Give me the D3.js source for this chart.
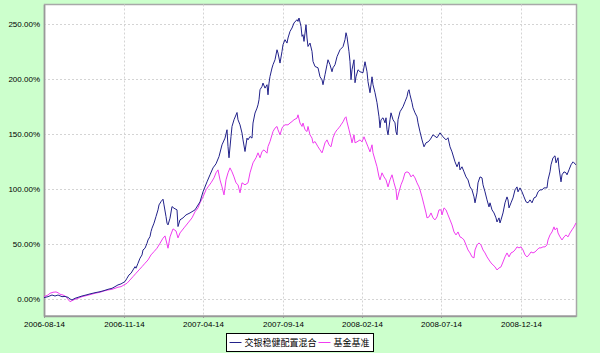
<!DOCTYPE html>
<html>
<head>
<meta charset="utf-8">
<script src="https://cdn.jsdelivr.net/npm/d3@7"></script>
<style>
  body { margin: 0; background: #ccffcc; }
  svg { display: block; }
</style>
</head>
<body>
<div class="chart"></div>
<script>
// tick labels on the x axis and the trading-day index they sit at
var tickLabels = ["2006-08-14", "2006-11-14", "2007-04-14", "2007-09-14", "2008-02-14", "2008-07-14", "2008-12-14"];
var tickDays = [0, 80, 159, 239, 318, 397, 477];
var lastDay = 532;

var yTicks = [0, 50, 100, 150, 200, 250];

var seriesNames = ["交银稳健配置混合", "基金基准"];

// [day index, cumulative return %]
var fund = [
  [0,1.2],[4,2.1],[8,3.6],[11,2.7],[14,3.6],[18,2.1],[21,2.3],[24,1.5],[26,0.0],[28,-0.9],
  [31,0.6],[34,1.5],[38,2.7],[42,3.6],[46,4.6],[51,5.7],[56,6.6],[60,7.6],[64,8.8],[68,9.7],
  [71,11.2],[74,12.8],[77,13.7],[79,14.8],[81,15.8],[83,18.9],[85,21.9],[87,23.4],[89,26.4],[91,29.4],
  [92,28.0],[94,32.5],[96,37.1],[98,40.1],[99,44.6],[101,46.2],[103,50.7],[104,53.7],[106,56.8],[107,61.3],
  [108,64.4],[110,69.0],[112,75.0],[114,81.1],[115,85.6],[117,88.6],[119,90.8],[120,85.6],[122,75.0],[123,69.0],
  [124,67.4],[126,73.5],[128,84.1],[130,82.6],[133,81.1],[134,65.9],[136,72.0],[139,73.8],[142,76.5],[146,78.3],
  [151,81.1],[156,88.4],[159,97.5],[163,106.6],[166,113.0],[169,119.3],[172,123.0],[175,129.6],[178,140.3],[181,146.4],
  [183,154.0],[184,138.7],[185,128.5],[187,147.9],[188,157.0],[190,163.1],[193,169.7],[194,163.1],[196,158.5],[198,151.0],
  [199,144.8],[201,134.2],[203,146.4],[204,144.8],[206,147.9],[208,146.4],[209,160.1],[211,169.2],[213,173.7],[214,176.7],
  [215,181.3],[216,190.4],[218,193.4],[219,196.5],[221,191.9],[223,195.0],[224,185.8],[225,196.5],[226,202.5],[228,210.2],
  [229,213.2],[231,217.7],[233,226.8],[234,223.8],[236,214.7],[238,225.3],[239,231.4],[241,236.0],[243,232.9],[244,237.5],
  [246,243.5],[248,246.6],[250,251.2],[253,254.2],[254,252.6],[255,255.7],[257,248.1],[258,239.0],[259,240.5],[260,234.4],
  [262,249.6],[263,237.5],[264,229.8],[266,232.9],[268,225.3],[269,216.2],[271,211.6],[274,210.4],[276,202.2],[278,199.5],
  [279,195.0],[281,204.1],[283,213.2],[284,217.7],[286,213.2],[288,206.8],[289,210.4],[291,213.2],[293,220.5],[296,226.8],
  [299,229.6],[301,236.0],[302,242.3],[303,238.7],[305,225.0],[306,215.9],[307,199.5],[308,208.6],[310,217.7],[311,196.8],
  [312,202.2],[314,208.6],[316,206.8],[319,205.9],[321,215.9],[323,206.8],[324,197.7],[326,187.7],[328,202.2],[329,195.0],
  [331,187.7],[333,178.6],[335,165.8],[336,155.8],[337,163.1],[339,164.9],[341,160.3],[342,164.9],[343,154.0],[344,149.4],
  [346,163.1],[347,169.4],[349,163.1],[351,160.3],[352,152.1],[353,149.4],[354,163.1],[356,170.4],[359,174.9],[361,179.5],
  [363,184.0],[364,188.6],[365,190.4],[366,185.8],[368,178.6],[369,174.0],[371,169.4],[373,165.8],[374,160.3],[376,152.1],
  [378,144.8],[380,138.5],[382,142.1],[384,143.0],[386,144.8],[389,149.4],[393,146.7],[396,151.2],[399,147.6],[402,144.8],
  [404,146.7],[406,138.5],[408,133.9],[411,124.8],[413,120.3],[415,124.8],[416,117.5],[418,120.3],[420,115.7],[422,111.1],
  [424,108.4],[426,102.0],[428,99.3],[430,92.9],[431,87.5],[433,96.6],[434,105.7],[436,111.1],[438,110.2],[439,103.9],
  [441,97.5],[443,90.2],[445,83.8],[446,87.5],[448,81.1],[450,78.3],[452,73.8],[453,70.1],[455,73.8],[456,69.2],
  [457,72.0],[459,78.3],[461,87.5],[463,92.9],[464,90.2],[465,82.9],[467,87.5],[469,92.0],[471,99.3],[473,102.0],
  [474,97.5],[476,101.1],[478,97.5],[480,92.9],[482,88.4],[484,87.5],[486,90.2],[488,87.5],[490,92.0],[492,92.9],
  [494,97.5],[496,99.3],[498,99.3],[500,101.1],[503,101.1],[504,108.4],[506,115.7],[507,122.1],[509,128.5],[511,130.3],
  [512,123.9],[514,128.5],[515,119.3],[517,106.6],[518,113.0],[520,115.7],[522,114.8],[523,113.0],[525,117.5],[527,122.1],
  [529,124.8],[530,123.9],[532,122.1]
];

var bench = [
  [0,2.1],[4,3.6],[6,5.2],[9,6.1],[12,6.4],[14,5.7],[16,4.3],[19,3.6],[22,2.1],[24,-0.3],
  [26,-2.5],[28,-1.5],[31,-0.3],[34,0.6],[38,2.1],[42,3.0],[46,3.9],[51,5.2],[56,6.1],[60,7.3],
  [64,8.2],[68,8.8],[71,9.7],[74,10.7],[77,11.2],[80,12.8],[83,14.3],[86,17.3],[89,20.3],[92,23.4],
  [95,26.4],[98,29.4],[101,32.5],[104,35.5],[107,40.1],[110,43.1],[113,46.2],[116,50.7],[119,55.3],[121,57.4],
  [124,46.2],[126,56.5],[129,63.8],[132,61.9],[134,55.6],[136,60.1],[140,64.7],[144,69.2],[148,73.8],[151,79.3],
  [154,82.9],[156,87.5],[159,92.9],[162,99.3],[164,102.0],[167,105.7],[170,110.2],[172,114.8],[174,117.5],[176,108.4],
  [178,102.0],[180,94.7],[182,108.4],[184,114.8],[186,119.3],[188,115.7],[190,111.1],[192,105.7],[194,103.9],[196,96.6],
  [198,105.7],[201,103.9],[204,105.7],[206,114.8],[209,123.9],[212,128.5],[214,133.0],[216,128.5],[218,134.2],[220,135.7],
  [223,132.7],[224,138.7],[226,143.3],[228,149.4],[229,152.4],[231,155.5],[233,157.0],[234,154.0],[236,149.4],[238,155.5],
  [239,157.0],[241,158.5],[244,158.5],[246,160.1],[248,161.5],[250,163.1],[253,164.6],[254,167.6],[256,160.1],[258,157.0],
  [259,160.1],[261,154.0],[263,152.4],[264,157.0],[266,149.4],[268,146.4],[269,141.8],[271,143.3],[274,138.5],[276,135.7],
  [278,133.0],[279,135.7],[281,142.1],[283,144.8],[285,140.3],[287,138.5],[289,146.7],[291,151.2],[293,154.0],[295,155.8],
  [297,158.5],[299,161.2],[301,164.9],[302,165.8],[303,161.2],[305,154.0],[307,146.7],[308,142.1],[310,149.4],[311,142.1],
  [313,143.0],[316,144.8],[318,143.0],[320,147.6],[322,143.0],[324,138.5],[326,133.9],[328,140.3],[329,133.0],[331,126.6],
  [333,120.3],[335,111.1],[336,108.4],[338,114.8],[340,111.1],[342,108.4],[344,102.0],[346,108.4],[348,113.0],[350,105.7],
  [352,99.3],[353,90.2],[355,97.5],[357,103.9],[359,108.4],[361,114.8],[363,115.7],[365,114.8],[367,111.1],[369,113.0],
  [371,110.2],[373,105.7],[375,102.0],[376,99.3],[378,92.9],[380,85.6],[382,78.3],[383,73.8],[385,74.7],[387,78.3],
  [389,73.8],[391,72.0],[393,74.7],[395,81.1],[397,81.1],[398,76.5],[400,82.9],[402,81.1],[404,76.5],[406,72.0],
  [408,67.4],[410,61.0],[412,58.3],[414,61.0],[416,56.5],[418,55.6],[420,53.7],[422,49.2],[424,44.6],[426,41.9],
  [428,38.3],[430,37.4],[431,44.6],[433,49.2],[435,51.0],[437,49.2],[439,44.6],[441,41.9],[443,38.3],[445,35.5],
  [447,32.8],[449,31.0],[451,29.2],[453,26.4],[455,28.2],[457,29.2],[459,33.7],[461,38.3],[463,41.9],[465,38.3],
  [467,41.9],[469,42.8],[471,44.6],[473,47.4],[475,46.5],[477,47.4],[479,44.6],[481,40.1],[483,38.3],[485,40.1],
  [487,42.8],[489,41.9],[491,42.8],[493,44.6],[495,46.5],[497,46.5],[499,47.4],[501,47.4],[503,49.2],[504,53.7],
  [506,58.3],[508,61.0],[510,65.6],[511,62.9],[513,64.7],[514,60.1],[516,56.5],[518,53.7],[520,56.5],[522,58.3],
  [524,56.5],[526,60.1],[528,62.9],[530,65.6],[532,69.2]
];

var colors = ["#22228a", "#f03cf0"];

var W = 600, H = 353;
var margin = {top: 4.5, right: 24, bottom: 37, left: 44};

var svg = d3.select(".chart")
    .append("svg")
    .attr("width", W)
    .attr("height", H);

svg.append("rect")
    .attr("width", W)
    .attr("height", H)
    .attr("fill", "#ccffcc");

var x = d3.scaleLinear()
    .domain([0, lastDay])
    .range([margin.left, W - margin.right]);

var y = d3.scaleLinear()
    .domain([-15.5, 268])
    .range([H - margin.bottom, margin.top]);

// plot area
svg.append("rect")
    .attr("x", margin.left + 0.5)
    .attr("y", margin.top)
    .attr("width", W - margin.right - margin.left)
    .attr("height", H - margin.bottom - margin.top)
    .attr("fill", "#ffffff")
    .attr("stroke", "#a8a8a8")
    .attr("stroke-width", 1.5);

// grid lines
svg.append("g")
    .selectAll("line")
    .data(yTicks)
    .join("line")
    .attr("x1", margin.left)
    .attr("x2", W - margin.right)
    .attr("y1", d => Math.round(y(d)) + 0.5)
    .attr("y2", d => Math.round(y(d)) + 0.5)
    .attr("stroke", "#d4d4d4")
    .attr("stroke-dasharray", "2,2");

svg.append("g")
    .selectAll("line")
    .data(tickDays.slice(1))
    .join("line")
    .attr("x1", d => Math.round(x(d)) + 0.5)
    .attr("x2", d => Math.round(x(d)) + 0.5)
    .attr("y1", margin.top)
    .attr("y2", H - margin.bottom)
    .attr("stroke", "#d4d4d4")
    .attr("stroke-dasharray", "2,2");

// axes
var xAxis = svg.append("g")
    .attr("transform", `translate(0,${H - margin.bottom})`)
    .call(d3.axisBottom(x)
        .tickValues(tickDays)
        .tickFormat((d, i) => tickLabels[i])
        .tickSize(2)
        .tickSizeOuter(0));

var yAxis = svg.append("g")
    .attr("transform", `translate(${margin.left},0)`)
    .call(d3.axisLeft(y)
        .tickValues(yTicks)
        .tickFormat(d => d.toFixed(2) + "%")
        .tickSize(0)
        .tickSizeOuter(0));

[xAxis, yAxis].forEach(function (g) {
    g.select(".domain").attr("stroke", "#999999").attr("stroke-width", 1.5);
    g.selectAll(".tick line").attr("stroke", "#999999");
    g.selectAll("text")
        .attr("fill", "#000")
        .style("font-family", "'Liberation Sans', Arial, sans-serif")
        .style("font-size", "8px");
});
yAxis.selectAll("text").attr("x", -4);
xAxis.selectAll("text").attr("y", 5);

// series lines
var line = d3.line()
    .x(d => x(d[0]))
    .y(d => y(d[1]));

[bench, fund].forEach(function (s, i) {
    svg.append("path")
        .datum(s)
        .attr("fill", "none")
        .attr("stroke", colors[s === fund ? 0 : 1])
        .attr("stroke-width", 1)
        .attr("stroke-linejoin", "round")
        .attr("d", line);
});

// legend
var legend = svg.append("g").attr("transform", "translate(226.5,333.5)");

legend.append("rect")
    .attr("width", 147)
    .attr("height", 18)
    .attr("fill", "#ffffff")
    .attr("stroke", "#000")
    .attr("stroke-width", 1);

var legendX = [3, 92];
seriesNames.forEach(function (name, i) {
    legend.append("line")
        .attr("x1", legendX[i])
        .attr("x2", legendX[i] + 12)
        .attr("y1", 9)
        .attr("y2", 9)
        .attr("stroke", colors[i])
        .attr("stroke-width", 1);
    legend.append("text")
        .attr("x", legendX[i] + 15)
        .attr("y", 12.5)
        .style("font-family", "'Noto Sans CJK SC', sans-serif")
        .style("font-size", "9px")
        .attr("fill", "#000")
        .text(name);
});
</script>
</body>
</html>
